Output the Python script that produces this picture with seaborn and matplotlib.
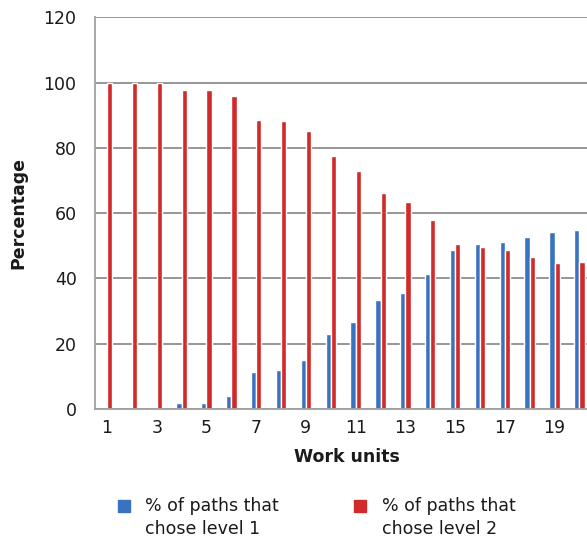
import matplotlib
matplotlib.use('Agg')
import matplotlib.pyplot as plt
from matplotlib.lines import Line2D
import seaborn as sns
import pandas as pd

work_units = list(range(1, 21))
level1 = [0, 0, 0, 1.7, 1.7, 4.1, 11.3, 11.8, 14.9, 22.9,
          26.7, 33.5, 35.7, 41.4, 48.8, 50.6, 51.1, 52.8, 54.4, 54.9]
level2 = [100, 100, 100, 97.9, 97.9, 96.0, 88.7, 88.2, 85.3, 77.4,
          72.8, 66.1, 63.4, 57.9, 50.6, 49.5, 48.8, 46.5, 44.8, 45.0]
series_names = ['% of paths that\nchose level 1', '% of paths that\nchose level 2']
colors = ['#3a72c2', '#d12a2a']

df = pd.DataFrame({
    'unit': work_units * 2,
    'value': level1 + level2,
    'series': [series_names[0]] * 20 + [series_names[1]] * 20,
})

sns.set_style('white')
plt.rcParams['font.family'] = ['DejaVu Sans']

W, H = 587, 543
fig = plt.figure(figsize=(W / 100, H / 100), dpi=100)
ax = fig.add_axes([0.1612, 0.2468, 0.847, 0.721])

sns.barplot(data=df, x='unit', y='value', hue='series', palette=colors,
            width=0.42, legend=False, ax=ax, saturation=1)

ax.set_ylim(0, 120)
ax.set_yticks(range(0, 121, 20))
ax.set_xlim(-0.5, 19.5)
ax.set_xticks(range(0, 20, 2))
ax.set_xticklabels([str(u) for u in work_units[::2]])
ax.yaxis.grid(True, color='#8e8e8e', linewidth=1.3)
ax.set_axisbelow(True)

for side in ['top', 'right']:
    ax.spines[side].set_visible(False)
for side in ['left', 'bottom']:
    ax.spines[side].set_color('#a0a0a0')
    ax.spines[side].set_linewidth(1.3)

ax.tick_params(axis='y', length=8, color='#a0a0a0', width=1.3, labelsize=12.5, pad=5,
               labelcolor='#1a1a1a')
ax.tick_params(axis='x', length=0, labelsize=12.5, pad=7, labelcolor='#1a1a1a')

ax.set_xlabel('Work units', fontsize=12.5, fontweight='bold', va='center', color='#1a1a1a')
ax.set_ylabel('Percentage', fontsize=12.5, fontweight='bold', va='center', color='#1a1a1a')
ax.xaxis.set_label_coords(0.508, -0.1226)
ax.yaxis.set_label_coords(-0.154, 0.5)

# legend: marker aligned with first line of a two-line label
legend_pos = [(124, 145), (360, 382)]
for (mx, tx), name, c in zip(legend_pos, series_names, colors):
    fig.add_artist(Line2D([mx / W], [1 - 506 / H], marker='s', linestyle='',
                          markersize=8.5, markerfacecolor=c, markeredgecolor=c,
                          transform=fig.transFigure))
    fig.text(tx / W, 1 - 497 / H, name, fontsize=12.5, va='top', ha='left',
             color='#1a1a1a', linespacing=1.35)

plt.savefig('out.png', dpi=100)
plt.close()
